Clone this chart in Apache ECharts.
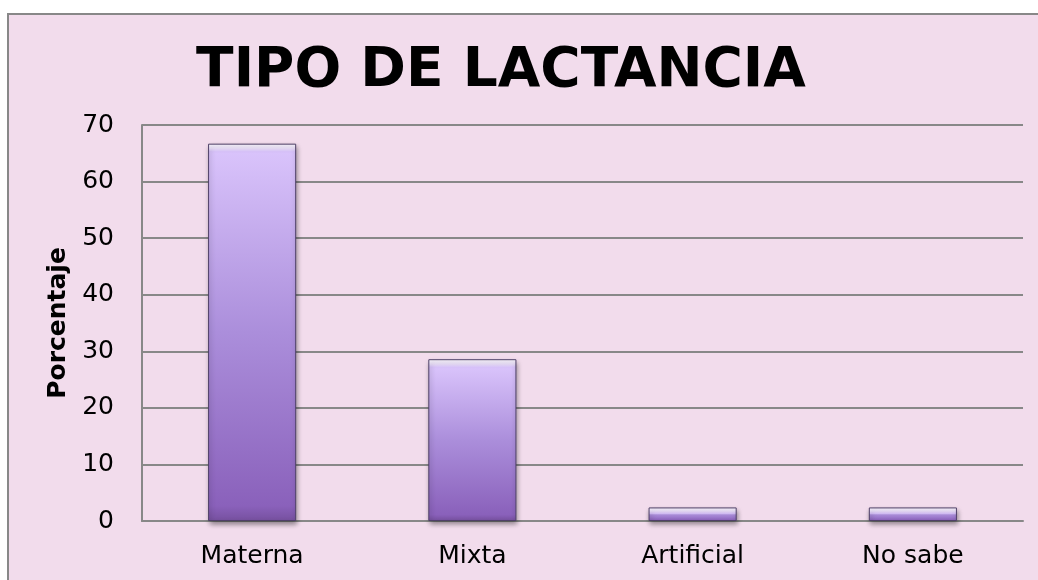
<!DOCTYPE html>
<html>
<head>
<meta charset="utf-8">
<script src="https://cdn.jsdelivr.net/npm/echarts@6/dist/echarts.min.js"></script>
<style>
  html, body { margin: 0; padding: 0; background: #fff; overflow: hidden; }
  #frame {
    position: absolute; left: 7px; top: 13px; width: 1100px; height: 700px;
    background: #f2dcec; border: 2px solid #888;
  }
  #chart { position: absolute; left: 0; top: 0; width: 1038px; height: 580px; }
</style>
</head>
<body>
<div id="frame"></div>
<div id="chart"></div>
<script>
// datos del gráfico
var categorias = ['Materna', 'Mixta', 'Artificial', 'No sabe'];
var porcentajes = [66.7, 28.6, 2.4, 2.4];
var ticksY = [0, 10, 20, 30, 40, 50, 60, 70];

var myChart = echarts.init(document.getElementById('chart'));

// degradado del cuerpo de la barra, con brillo arriba
function barColor(params) {
  var alto = params.value / 70 * 396; // alto aproximado en px
  var brillo = Math.min(0.45, 8 / alto);
  return new echarts.graphic.LinearGradient(0, 0, 0, 1, [
    { offset: 0, color: '#fdfaff' },
    { offset: brillo * 0.6, color: '#efe4fe' },
    { offset: brillo, color: '#d9c3fb' },
    { offset: Math.max(0.5, brillo + 0.1), color: '#ab8edb' },
    { offset: 0.96, color: '#8a61bb' },
    { offset: 1, color: '#76509f' }
  ]);
}

var option = {
  backgroundColor: 'transparent',
  animation: false,
  textStyle: { fontFamily: 'DejaVu Sans' },
  title: {
    text: 'TIPO DE LACTANCIA',
    left: 496,
    top: 39,
    textAlign: 'center',
    textStyle: { fontFamily: 'DejaVu Sans', fontWeight: 'bold', fontSize: 55, color: '#000' }
  },
  grid: { left: 142, right: 15, top: 125, bottom: 59, containLabel: false },
  xAxis: {
    type: 'category',
    data: categorias,
    axisLine: { lineStyle: { color: '#888', width: 2 } },
    axisTick: { show: false },
    axisLabel: { color: '#000', fontSize: 25, margin: 23, fontFamily: 'DejaVu Sans' }
  },
  yAxis: {
    type: 'value',
    min: ticksY[0],
    max: ticksY[ticksY.length - 1],
    interval: 10,
    name: 'Porcentaje',
    nameLocation: 'middle',
    nameGap: 71,
    nameRotate: 90,
    nameTextStyle: { color: '#000', fontSize: 25, fontWeight: 'bold', fontFamily: 'DejaVu Sans' },
    axisLine: { show: true, lineStyle: { color: '#888', width: 2 } },
    axisTick: { show: false },
    axisLabel: { color: '#000', fontSize: 25, margin: 28, fontFamily: 'DejaVu Sans' },
    splitLine: { lineStyle: { color: '#888', width: 2 } }
  },
  series: [{
    type: 'bar',
    data: porcentajes,
    barWidth: '40%',
    itemStyle: {
      color: barColor,
      borderColor: '#4f4068',
      borderWidth: 1,
      shadowColor: 'rgba(0,0,0,0.4)',
      shadowBlur: 5,
      shadowOffsetX: 1,
      shadowOffsetY: 3
    }
  }]
};

myChart.setOption(option);
</script>
</body>
</html>
